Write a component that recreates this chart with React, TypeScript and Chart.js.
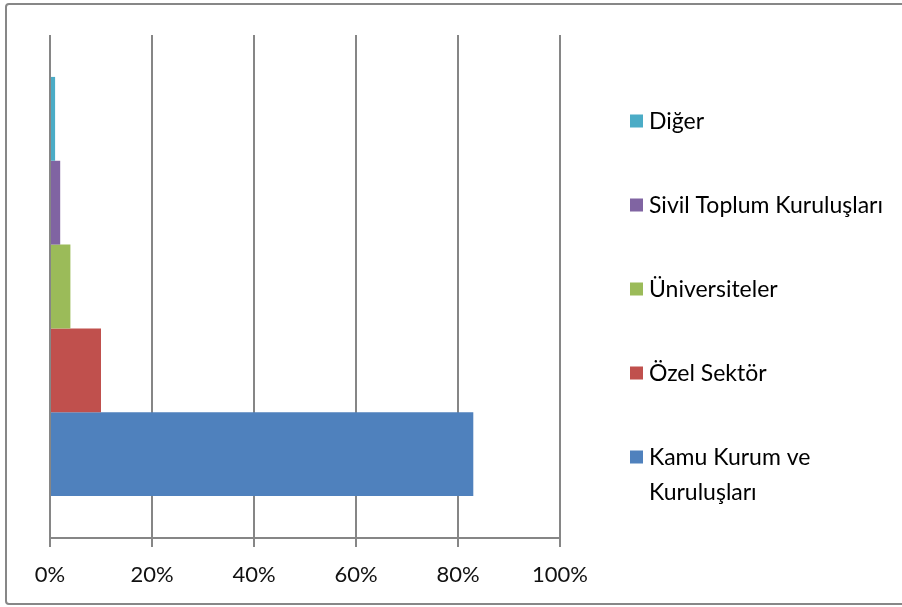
import React, { useEffect, useRef } from "react";
import { Chart, registerables } from "chart.js";

Chart.register(...registerables);

const categories = [""];
const seriesNames = ["Diğer", "Sivil Toplum Kuruluşları", "Üniversiteler", "Özel Sektör", "Kamu Kurum ve\nKuruluşları"];
const seriesValues = [1, 2, 4, 10, 83];
const seriesColors = ["#4BACC6", "#8064A2", "#9BBB59", "#C0504D", "#4F81BD"];
const xTicks = [0, 20, 40, 60, 80, 100];

const FONT = "Lato, 'Liberation Sans', sans-serif";

const framePlugin = {
  id: "frame",
  beforeDraw(chart: any) {
    const ctx = chart.ctx;
    ctx.save();
    ctx.fillStyle = "#ffffff";
    ctx.fillRect(0, 0, chart.width, chart.height);
    ctx.strokeStyle = "#878787";
    ctx.lineWidth = 2;
    ctx.beginPath();
    const l = 6, t = 4, r = chart.width + 10, b = 604, rad = 3;
    ctx.moveTo(r, t);
    ctx.lineTo(l + rad, t);
    ctx.quadraticCurveTo(l, t, l, t + rad);
    ctx.lineTo(l, b - rad);
    ctx.quadraticCurveTo(l, b, l + rad, b);
    ctx.lineTo(r, b);
    ctx.stroke();
    ctx.restore();
  },
};

const legendPlugin = {
  id: "customLegend",
  afterDraw(chart: any) {
    const ctx = chart.ctx;
    ctx.save();
    const datasets = chart.data.datasets;
    const x0 = 630;
    const textX = 649;
    const startY = 121;
    const step = 84;
    const lineH = 35;
    ctx.font = `23px ${FONT}`;
    ctx.textBaseline = "middle";
    ctx.textAlign = "left";
    datasets.forEach((ds: any, i: number) => {
      const cy = startY + i * step;
      ctx.fillStyle = ds.backgroundColor;
      ctx.fillRect(x0, cy - 6.5, 13, 13);
      ctx.fillStyle = "#000000";
      const lines = String(ds.label).split("\n");
      lines.forEach((ln: string, j: number) => {
        ctx.fillText(ln, textX, cy + j * lineH + 1);
      });
    });
    ctx.restore();
  },
};

export default function App() {
  const ref = useRef<HTMLCanvasElement>(null);
  useEffect(() => {
    if (!ref.current) return;
    const chart = new Chart(ref.current, {
      type: "bar",
      data: {
        labels: categories,
        datasets: seriesNames.map((name, i) => ({
          label: name,
          data: [seriesValues[i]],
          backgroundColor: seriesColors[i],
          borderWidth: 0,
          barPercentage: 1,
          categoryPercentage: 5 / 6,
        })),
      },
      options: {
        indexAxis: "y",
        animation: false,
        responsive: false,
        devicePixelRatio: 1,
        layout: { padding: { left: 50, top: 35, right: 342, bottom: 0 } },
        plugins: { legend: { display: false }, tooltip: { enabled: false } },
        scales: {
          y: { display: false },
          x: {
            min: xTicks[0],
            max: xTicks[xTicks.length - 1],
            afterFit: (s: any) => {
              s.height = 69;
            },
            afterBuildTicks: (s: any) => {
              s.ticks = xTicks.map((v) => ({ value: v }));
            },
            ticks: {
              callback: (v: any) => `${v}%`,
              font: { family: FONT, size: 22 },
              color: "#111111",
              padding: 15,
              maxRotation: 0,
            },
            grid: {
              color: "#868686",
              lineWidth: 2,
              tickLength: 9,
              drawTicks: true,
            },
            border: { display: true, color: "#868686", width: 2 },
          },
        },
      },
      plugins: [framePlugin, legendPlugin],
    } as any);
    return () => chart.destroy();
  }, []);
  return (
    <div style={{ position: "absolute", left: 0, top: 0, width: 902, height: 607 }}>
      <canvas ref={ref} width={902} height={607} style={{ width: 902, height: 607, display: "block" }} />
    </div>
  );
}
